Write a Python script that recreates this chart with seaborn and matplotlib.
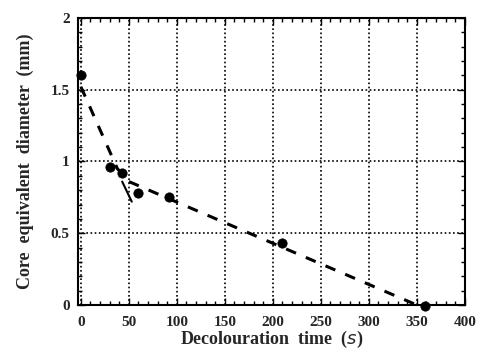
import matplotlib
matplotlib.use("Agg")
import matplotlib.pyplot as plt
import seaborn as sns
import pandas as pd
from matplotlib.ticker import MultipleLocator

sns.set_theme(style="white")
plt.rcParams['font.family'] = ['Liberation Serif', 'DejaVu Serif']

# measured points
time_s = [0, 30, 43, 60, 92, 210, 358]
diameter_mm = [1.6, 0.96, 0.92, 0.78, 0.75, 0.43, -0.01]
# dashed fit line
fit_time = [0, 38, 50, 350]
fit_diam = [1.52, 0.95, 0.86, 0.0]
# small solid mark
mark_time = [43, 53]
mark_diam = [0.86, 0.72]

x_ticks = [0, 50, 100, 150, 200, 250, 300, 350, 400]
y_ticks = [0, 0.5, 1, 1.5, 2]
y_tick_labels = ["0", "0.5", "1", "1.5", "2"]

pts = pd.DataFrame({"t": time_s, "d": diameter_mm})
fit = pd.DataFrame({"t": fit_time, "d": fit_diam})
mark = pd.DataFrame({"t": mark_time, "d": mark_diam})

fig = plt.figure(figsize=(4.8, 3.58), dpi=100)
ax = fig.add_axes([0.1625, 0.148, 0.806, 0.802])

sns.lineplot(data=fit, x="t", y="d", ax=ax, color="black", lw=2.2,
             dashes=False, linestyle=(0, (3.5, 3.5)), sort=False)
sns.lineplot(data=mark, x="t", y="d", ax=ax, color="black", lw=1.5, sort=False)
sns.scatterplot(data=pts, x="t", y="d", ax=ax, color="black", s=45,
                edgecolor="black", zorder=5, clip_on=False)

ax.set_xlim(-3, 400)
ax.set_ylim(0, 2)
ax.set_xticks(x_ticks)
ax.set_xticklabels([str(v) for v in x_ticks])
ax.set_yticks(y_ticks)
ax.set_yticklabels(y_tick_labels)
ax.xaxis.set_minor_locator(MultipleLocator(10))
ax.yaxis.set_minor_locator(MultipleLocator(0.1))
ax.tick_params(which="both", direction="in", top=True, right=True,
               bottom=True, left=True, color="black")
ax.tick_params(which="major", length=5, width=1, labelsize=11)
ax.tick_params(axis="x", which="major", pad=8)
ax.tick_params(axis="y", which="major", pad=6)
ax.tick_params(which="minor", length=3, width=1)
for lbl in ax.get_xticklabels() + ax.get_yticklabels():
    lbl.set_fontweight("bold")

ax.grid(True, which="major", linestyle=(0, (1, 1.5)), color="black", lw=1.2)
for sp in ax.spines.values():
    sp.set_color("black")
    sp.set_linewidth(1.5)

ax.set_xlabel("Decolouration  time  ($\\it{s}$)", fontsize=13, fontweight="bold", labelpad=0)
ax.set_ylabel("Core  equivalent  diameter  (mm)", fontsize=13, fontweight="bold", labelpad=12)

fig.savefig("out.png", dpi=100)
